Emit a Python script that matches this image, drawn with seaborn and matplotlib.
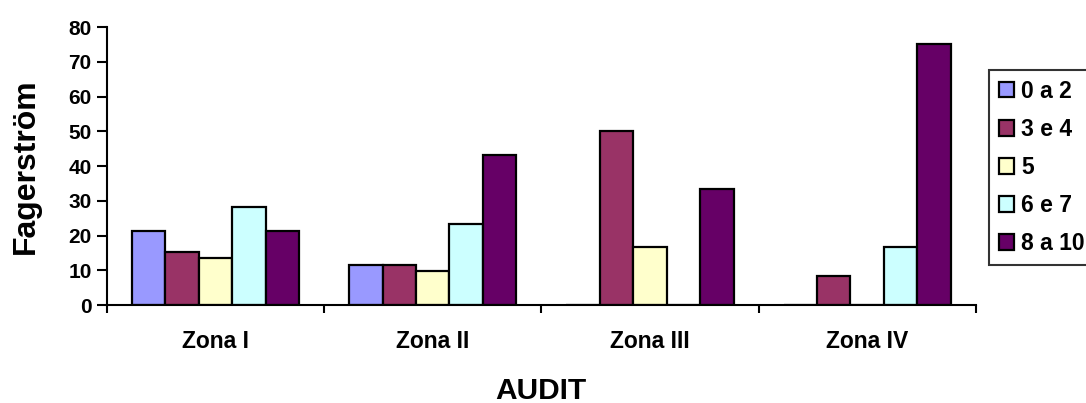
import pandas as pd
import seaborn as sns
import matplotlib.pyplot as plt
from matplotlib.ticker import FixedLocator

zones = ["Zona I", "Zona II", "Zona III", "Zona IV"]
groups = ["0 a 2", "3 e 4", "5", "6 e 7", "8 a 10"]
v_0a2 = [21.4, 11.6, 0, 0]
v_3e4 = [15.2, 11.6, 50.0, 8.3]
v_5 = [13.6, 9.7, 16.7, 0]
v_6e7 = [28.2, 23.3, 0, 16.7]
v_8a10 = [21.4, 43.1, 33.3, 75.0]
colors = ["#9999FF", "#993366", "#FFFFCC", "#CCFFFF", "#660066"]


def build_frame() -> pd.DataFrame:
    rows = []
    for g, vals in zip(groups, [v_0a2, v_3e4, v_5, v_6e7, v_8a10]):
        for z, v in zip(zones, vals):
            rows.append({"zone": z, "group": g, "value": v})
    return pd.DataFrame(rows)


def main():
    df = build_frame()
    sns.set_style("ticks")
    plt.rcParams['font.family'] = ['Liberation Sans', 'DejaVu Sans']
    plt.rcParams['font.weight'] = 'bold'
    plt.rcParams['text.color'] = 'black'
    plt.rcParams['axes.labelcolor'] = 'black'
    plt.rcParams['xtick.color'] = 'black'
    plt.rcParams['ytick.color'] = 'black'

    fig = plt.figure(figsize=(10.86, 4.03), dpi=100)
    ax = fig.add_axes([0.0985, 0.243, 0.80, 0.69])
    sns.barplot(data=df, x="zone", y="value", hue="group",
                palette=colors, saturation=1, width=0.77,
                edgecolor="black", linewidth=1.6, ax=ax, legend=True)

    ax.set_ylim(0, 80)
    ax.set_xlim(-0.5, 3.5)
    ax.set_yticks(range(0, 81, 10))
    ax.xaxis.set_minor_locator(FixedLocator([-0.5, 0.5, 1.5, 2.5, 3.5]))
    ax.tick_params(axis="x", which="major", length=0, pad=18,
                   labelsize=16.5)
    ax.tick_params(axis="x", which="minor", length=6, width=1.5,
                   direction="out")
    ax.tick_params(axis="y", length=7, width=1.5, labelsize=15, pad=4)
    for lab in ax.get_xticklabels() + ax.get_yticklabels():
        lab.set_fontweight("bold")
    for side in ["top", "right"]:
        ax.spines[side].set_visible(False)
    for side in ["left", "bottom"]:
        ax.spines[side].set_color("black")
        ax.spines[side].set_linewidth(1.5)

    ax.set_xlabel("AUDIT", fontsize=21.5, fontweight="bold", labelpad=17)
    ax.set_ylabel("Fagerström", fontsize=23, fontweight="bold",
                  labelpad=20)

    handles, labels = ax.get_legend_handles_labels()
    ax.legend_.remove()
    leg = fig.legend(handles, labels, loc="upper left",
                     bbox_to_anchor=(989 / 1086, 1 - 70 / 403),
                     frameon=True, fancybox=False, edgecolor="black",
                     fontsize=16.5, handlelength=0.68, handleheight=0.68,
                     handletextpad=0.3, labelspacing=0.66,
                     borderpad=0.42, borderaxespad=0)
    leg.get_frame().set_linewidth(1.5)
    for t in leg.get_texts():
        t.set_fontweight("bold")

    fig.savefig("out.png", dpi=100)


if __name__ == '__main__':
    main()
